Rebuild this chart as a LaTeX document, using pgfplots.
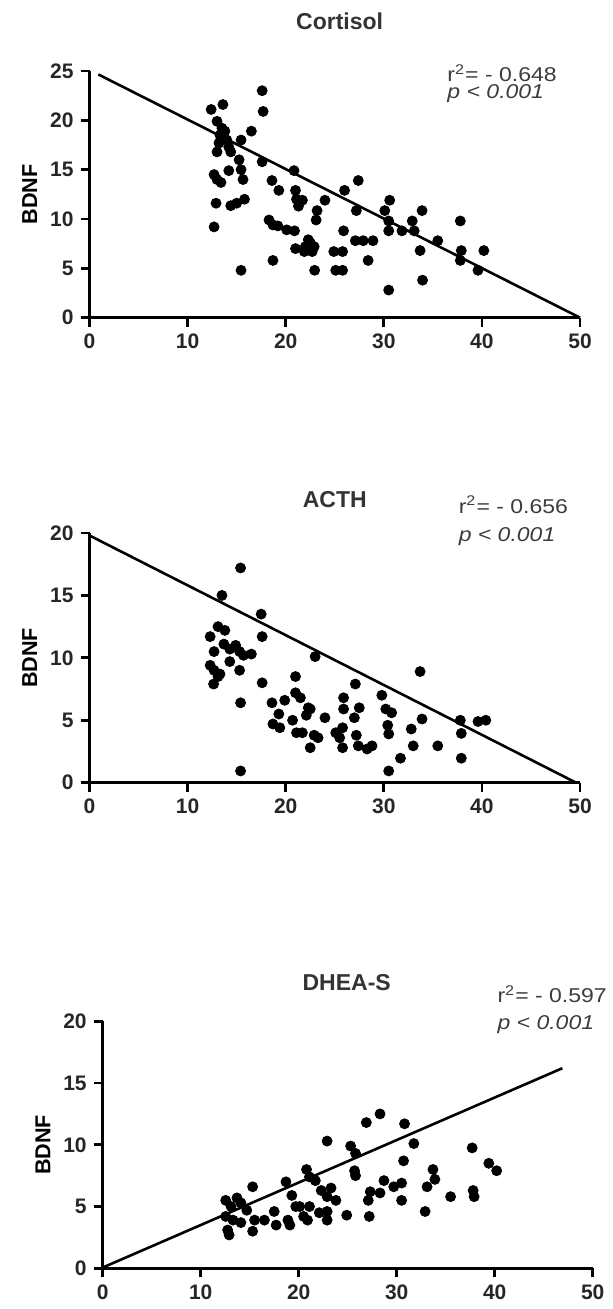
\documentclass[border=0pt]{standalone}
\usepackage{pgfplots}
\pgfplotsset{compat=1.18}
\usepackage{fontspec}
\setmainfont{Liberation Sans}
\definecolor{txtgray}{HTML}{3C3C3C}
\definecolor{ttlgray}{HTML}{333333}

\pgfplotsset{
  bdnfpanel/.style={
    scale only axis, width=245.25pt,
    xmin=0, xmax=50, ymin=0,
    axis lines=left, axis line style={-, line width=1.5pt, black},
    tick align=outside, major tick length=4.5pt,
    every tick/.style={black, line width=1.4pt},
    xtick={0,10,...,50},
    tick label style={font=\fontsize{10.5}{12}\bfseries\selectfont, text=black!85},
    /pgf/number format/assume math mode=true,
    ylabel={BDNF},
    ylabel style={font=\fontsize{10.8}{12}\bfseries\selectfont, at={(axis description cs:-0.122,0.5)}, anchor=center},
    every axis title shift=0pt,
    title style={font=\fontsize{11.5}{13}\bfseries\selectfont, text=ttlgray, anchor=center},
    clip=false,
  },
  dots/.style={only marks, mark=*, mark size=2.5pt, black},
  fitline/.style={no marks, black, line width=1.3pt},
}
\tikzset{stat/.style={anchor=base west, inner sep=0pt, font=\fontsize{10}{12}\selectfont, text=txtgray}}
\newcommand{\stx}[1]{\scalebox{1.15}[1]{#1}}

\begin{document}
\begin{tikzpicture}
\path[use as bounding box] (0,0) rectangle (306pt,654.5pt);

% Cortisol
\begin{axis}[bdnfpanel, at={(44.75pt,495.65pt)}, anchor=south west,
  height=123.35pt, ymax=25, ytick={0,5,...,25},
  title={Cortisol}, title style={at={(axis description cs:0.51,1.2)}}]
\addplot[dots] coordinates {
(12.4,21.1) (13.6,21.6) (13.0,19.9) (13.8,18.9) (14.0,18.0) (13.2,17.7)
(13.0,16.8) (14.4,16.8) (13.5,19.2) (14.2,17.3) (13.3,18.5)
(15.45,18.0) (16.5,18.9) (17.6,23.0) (17.7,20.9) (17.6,15.8)
(12.7,14.5) (13.0,14.0) (13.4,13.7) (14.2,14.9) (15.25,16.0) (15.45,15.0) (15.65,14.0)
(12.9,11.6) (14.4,11.35) (15.0,11.6) (15.8,12.0) (12.7,9.2) (15.45,4.8)
(18.6,13.9) (19.3,12.9) (20.85,14.9) (18.3,9.9) (18.7,9.4) (19.2,9.3) (20.1,8.9) (20.9,8.8)
(21.0,12.9) (21.1,12.0) (21.3,11.3) (21.7,11.9)
(21.0,7.0) (21.9,6.7) (22.5,7.6) (22.9,7.2) (22.7,6.7) (22.3,7.9) (22.0,7.2)
(23.1,9.9) (23.2,10.85) (24.0,11.9) (18.7,5.8) (22.95,4.8)
(24.9,6.7) (25.8,6.7) (25.1,4.8) (25.8,4.8) (25.9,8.8) (26.0,12.9)
(27.4,13.9) (27.2,10.85) (27.1,7.8) (27.9,7.8) (28.9,7.8) (28.4,5.8)
(30.1,10.85) (30.6,11.9) (30.5,9.8) (30.5,8.8) (31.85,8.8) (32.9,9.8) (33.1,8.8)
(33.9,10.85) (33.7,6.8) (33.95,3.8) (30.5,2.8) (35.5,7.8)
(37.8,9.8) (37.9,6.8) (37.8,5.8) (39.6,4.8) (40.2,6.8)
};
\addplot[fitline] coordinates {(0.9,24.65) (50,0)};
\node[stat] at (rel axis cs:0.729,0.957) {\stx{r\textsuperscript{2}= - 0.648}};
\node[stat] at (rel axis cs:0.729,0.887) {\stx{\itshape p < 0.001}};
\end{axis}

% ACTH
\begin{axis}[bdnfpanel, at={(44.75pt,263.15pt)}, anchor=south west,
  height=124.85pt, ymax=20, ytick={0,5,...,20},
  title={ACTH}, title style={at={(axis description cs:0.5,1.134)}}]
\addplot[dots] coordinates {
(15.4,17.2) (13.5,15.0) (17.5,13.5) (17.6,11.7) (23.0,10.1) (33.7,8.9)
(12.3,11.7) (13.1,12.5) (13.8,12.2) (12.7,10.5) (13.7,11.1) (14.3,10.7) (14.9,11.0)
(15.3,10.5) (15.7,10.2) (16.5,10.3) (14.3,9.7)
(12.3,9.4) (12.7,9.0) (13.3,8.7) (12.65,7.9) (13.1,8.5) (15.3,9.0)
(17.6,8.0) (15.4,6.4) (15.4,0.94) (18.6,6.4) (19.9,6.6)
(21.0,8.5) (21.0,7.2) (21.5,6.8) (22.3,6.0)
(18.7,4.7) (19.3,5.5) (19.4,4.4) (20.7,5.0) (21.1,4.0) (21.7,4.0)
(22.1,5.4) (22.5,5.9) (22.9,3.8) (23.3,3.6) (22.5,2.8) (24.0,5.2)
(25.1,4.0) (25.5,3.6) (25.9,6.8) (25.9,5.9) (25.8,4.4) (25.8,2.8)
(27.1,7.9) (27.5,6.0) (27.0,5.2) (27.2,3.8) (27.4,2.95) (28.3,2.7) (28.8,2.95)
(29.8,7.0) (30.2,5.9) (30.8,5.6) (30.4,4.6) (30.5,3.9) (30.5,0.94)
(31.7,1.96) (32.8,4.3) (33.0,2.95) (33.9,5.1) (35.5,2.95)
(37.8,5.0) (37.9,3.95) (37.9,1.96) (39.6,4.9) (40.4,5.0)
};
\addplot[fitline] coordinates {(0,19.8) (49.6,0)};
\node[stat] at (rel axis cs:0.752,1.08) {\stx{r\textsuperscript{2}= - 0.656}};
\node[stat] at (rel axis cs:0.752,0.966) {\stx{\itshape p < 0.001}};
\end{axis}

% DHEA-S
\begin{axis}[bdnfpanel, at={(51.35pt,20.35pt)}, anchor=south west,
  width=245pt, height=123.5pt, ymax=20, ytick={0,5,...,20},
  title={DHEA-S}, title style={at={(axis description cs:0.498,1.157)}}]
\addplot[dots] coordinates {
(26.9,11.8) (28.3,12.5) (30.8,11.7) (22.9,10.3) (25.3,9.9) (25.8,9.3)
(31.75,10.1) (37.7,9.75) (39.4,8.5) (40.2,7.9) (30.7,8.7) (25.7,7.9) (25.8,7.5)
(20.8,8.0) (21.1,7.4) (21.7,7.1) (22.3,6.3) (18.7,7.0) (15.3,6.6)
(23.3,6.5) (22.9,5.8) (23.8,5.5) (28.7,7.1) (29.7,6.6) (30.5,6.9)
(33.7,8.0) (33.9,7.2) (33.1,6.6) (27.3,6.2) (28.3,6.1) (27.1,5.5) (30.5,5.5)
(35.5,5.8) (37.8,6.3) (37.9,5.8) (32.9,4.6) (24.9,4.3) (27.2,4.2) (19.3,5.9)
(12.55,5.5) (13.1,5.0) (13.7,5.7) (14.1,5.3) (14.7,4.7) (12.55,4.2) (13.3,3.9)
(14.1,3.7) (12.75,3.1) (12.9,2.7) (15.3,3.0) (15.5,3.9)
(16.5,3.9) (17.5,4.6) (17.7,3.5) (18.9,3.9) (19.1,3.5) (19.7,5.0) (20.1,5.0)
(20.5,4.2) (20.9,3.9) (21.1,5.0) (22.1,4.5) (22.9,4.6) (22.9,3.9)
};
\addplot[fitline] coordinates {(0,0.06) (46.9,16.2)};
\node[stat] at (rel axis cs:0.805,1.075) {\stx{r\textsuperscript{2}= - 0.597}};
\node[stat] at (rel axis cs:0.805,0.967) {\stx{\itshape p < 0.001}};
\end{axis}
\end{tikzpicture}
\end{document}
